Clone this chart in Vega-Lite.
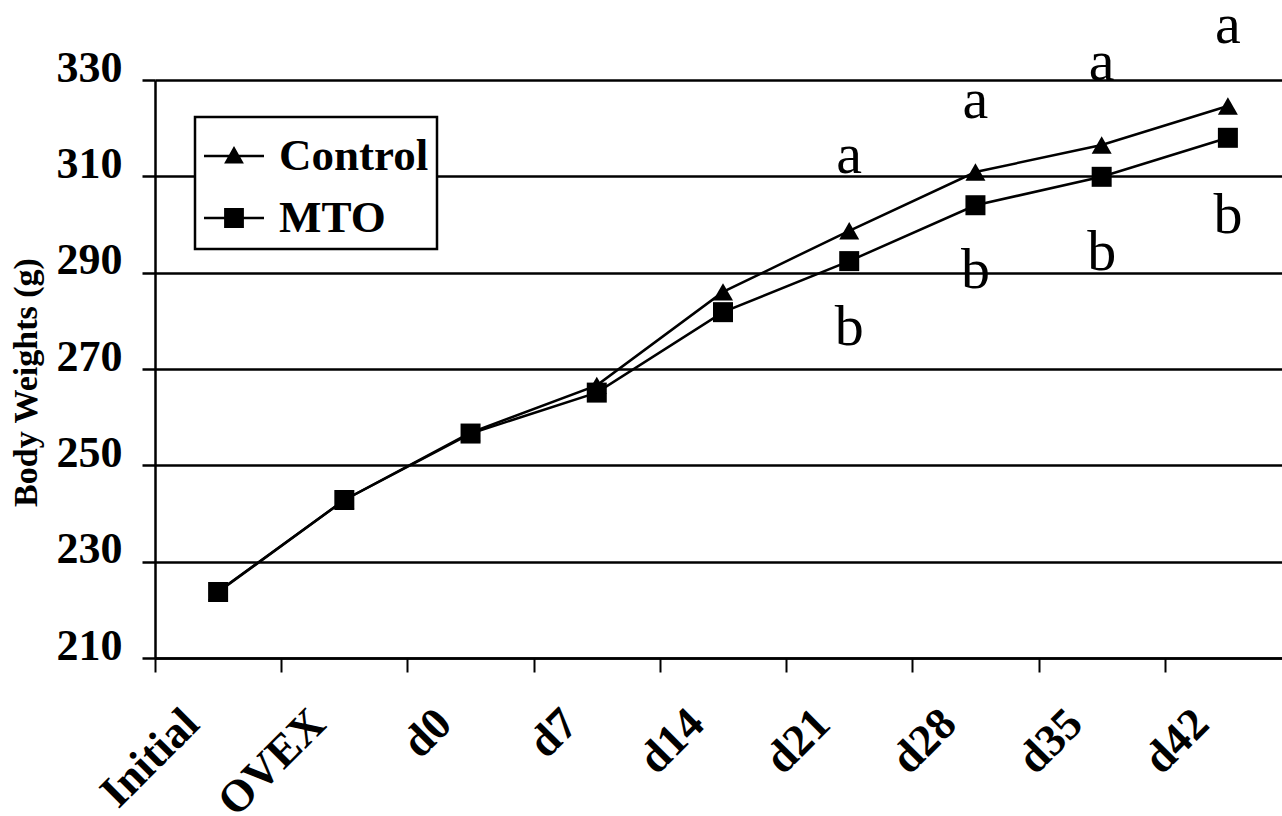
{
  "$schema": "https://vega.github.io/schema/vega-lite/v6.json",
  "width": 1127,
  "height": 578,
  "autosize": {"type": "none"},
  "padding": {"left": 155, "top": 80, "right": 0, "bottom": 158},
  "background": "white",
  "config": {
    "view": {"stroke": null},
    "font": "Liberation Serif",
    "legend": {"strokeWidth": 2.5}
  },
  "datasets": {
    "weights": [
      {"day": "Initial", "series": "Control", "weight": 223.8},
      {"day": "OVEX", "series": "Control", "weight": 242.8},
      {"day": "d0", "series": "Control", "weight": 256.8},
      {"day": "d7", "series": "Control", "weight": 266.6},
      {"day": "d14", "series": "Control", "weight": 286.0},
      {"day": "d21", "series": "Control", "weight": 298.7},
      {"day": "d28", "series": "Control", "weight": 310.9},
      {"day": "d35", "series": "Control", "weight": 316.5},
      {"day": "d42", "series": "Control", "weight": 324.6},
      {"day": "Initial", "series": "MTO", "weight": 223.7},
      {"day": "OVEX", "series": "MTO", "weight": 242.8},
      {"day": "d0", "series": "MTO", "weight": 256.6},
      {"day": "d7", "series": "MTO", "weight": 265.1},
      {"day": "d14", "series": "MTO", "weight": 281.8},
      {"day": "d21", "series": "MTO", "weight": 292.4},
      {"day": "d28", "series": "MTO", "weight": 304.0},
      {"day": "d35", "series": "MTO", "weight": 309.9},
      {"day": "d42", "series": "MTO", "weight": 318.0}
    ],
    "letters": [
      {"day": "d21", "letter": "a", "pos": 310.7},
      {"day": "d28", "letter": "a", "pos": 322.1},
      {"day": "d35", "letter": "a", "pos": 330.0},
      {"day": "d42", "letter": "a", "pos": 337.7},
      {"day": "d21", "letter": "b", "pos": 275.0},
      {"day": "d28", "letter": "b", "pos": 286.8},
      {"day": "d35", "letter": "b", "pos": 290.6},
      {"day": "d42", "letter": "b", "pos": 298.2}
    ]
  },
  "resolve": {"scale": {"shape": "independent"}, "legend": {"shape": "independent"}},
  "layer": [
    {
      "data": {"name": "weights"},
      "mark": {"type": "line", "color": "black", "strokeWidth": 2.5},
      "encoding": {
        "x": {
          "field": "day", "type": "ordinal",
          "sort": ["Initial", "OVEX", "d0", "d7", "d14", "d21", "d28", "d35", "d42"],
          "scale": {"type": "point", "padding": 0.5, "range": [0, 1136]},
          "axis": {
            "title": null,
            "grid": false,
            "domainColor": "black",
            "domainWidth": 2.5,
            "tickColor": "black",
            "tickWidth": 2,
            "tickSize": 14,
            "tickOffset": -63.1,
            "labelOffset": 36,
            "labelAngle": -45,
            "labelAlign": "right",
            "labelBaseline": "middle",
            "labelPadding": 44,
            "labelFont": "Liberation Serif",
            "labelFontSize": 45,
            "labelFontWeight": "bold",
            "labelColor": "black"
          }
        },
        "y": {
          "field": "weight", "type": "quantitative",
          "scale": {"domain": [210, 330], "nice": false, "zero": false},
          "axis": {
            "values": [210, 230, 250, 270, 290, 310, 330],
            "grid": true,
            "gridColor": "black",
            "gridWidth": 2.5,
            "gridOpacity": 1,
            "domainColor": "black",
            "domainWidth": 2.5,
            "tickColor": "black",
            "tickWidth": 2.5,
            "tickSize": 13,
            "labelFont": "Liberation Serif",
            "labelFontSize": 44,
            "labelFontWeight": "bold",
            "labelColor": "black",
            "labelPadding": 20,
            "labelBaseline": "middle",
            "labelOffset": -12,
            "title": "Body Weights (g)",
            "titleFont": "Liberation Serif",
            "titleFontSize": 34,
            "titleFontWeight": "bold",
            "titleColor": "black",
            "titleAngle": -90,
            "titleX": -129,
            "titleY": 302,
            "titleAlign": "center",
            "titleBaseline": "middle"
          }
        },
        "detail": {"field": "series"}
      }
    },
    {
      "data": {"name": "weights"},
      "mark": {"type": "point", "filled": true, "color": "black", "size": 400, "opacity": 1},
      "encoding": {
        "x": {"field": "day", "type": "ordinal", "sort": ["Initial", "OVEX", "d0", "d7", "d14", "d21", "d28", "d35", "d42"]},
        "y": {"field": "weight", "type": "quantitative"},
        "shape": {
          "field": "series", "type": "nominal",
          "scale": {"domain": ["Control", "MTO"], "range": ["triangle-up", "square"]},
          "legend": null
        }
      }
    },
    {
      "data": {"name": "weights"},
      "mark": {"type": "point", "filled": true, "color": "black", "size": 3600, "opacity": 0},
      "encoding": {
        "x": {"field": "day", "type": "ordinal", "sort": ["Initial", "OVEX", "d0", "d7", "d14", "d21", "d28", "d35", "d42"]},
        "y": {"field": "weight", "type": "quantitative"},
        "shape": {
          "field": "series", "type": "nominal",
          "scale": {"domain": ["Control", "MTO"], "range": ["M-1,-0.04H1V0.04H-1ZM-0.33,0.25L0,-0.33L0.33,0.25Z", "M-1,-0.04H1V0.04H-1ZM-0.33,-0.33H0.33V0.33H-0.33Z"]},
          "legend": {
            "orient": "none",
            "legendX": 40,
            "legendY": 37,
            "title": null,
            "labelFont": "Liberation Serif",
            "labelFontSize": 45,
            "labelFontWeight": "bold",
            "labelColor": "black",
            "symbolSize": 3600,
            "symbolOpacity": 1,
            "symbolFillColor": "black",
            "strokeColor": "black",
            "fillColor": "white",
            "padding": 8,
            "rowPadding": 8,
            "labelOffset": 14,
            "cornerRadius": 0
          }
        }
      }
    },
    {
      "data": {"name": "letters"},
      "mark": {"type": "text", "font": "Liberation Serif", "fontSize": 58, "color": "black", "align": "center", "baseline": "alphabetic"},
      "encoding": {
        "x": {"field": "day", "type": "ordinal", "sort": ["Initial", "OVEX", "d0", "d7", "d14", "d21", "d28", "d35", "d42"]},
        "y": {"field": "pos", "type": "quantitative"},
        "text": {"field": "letter"}
      }
    }
  ]
}
